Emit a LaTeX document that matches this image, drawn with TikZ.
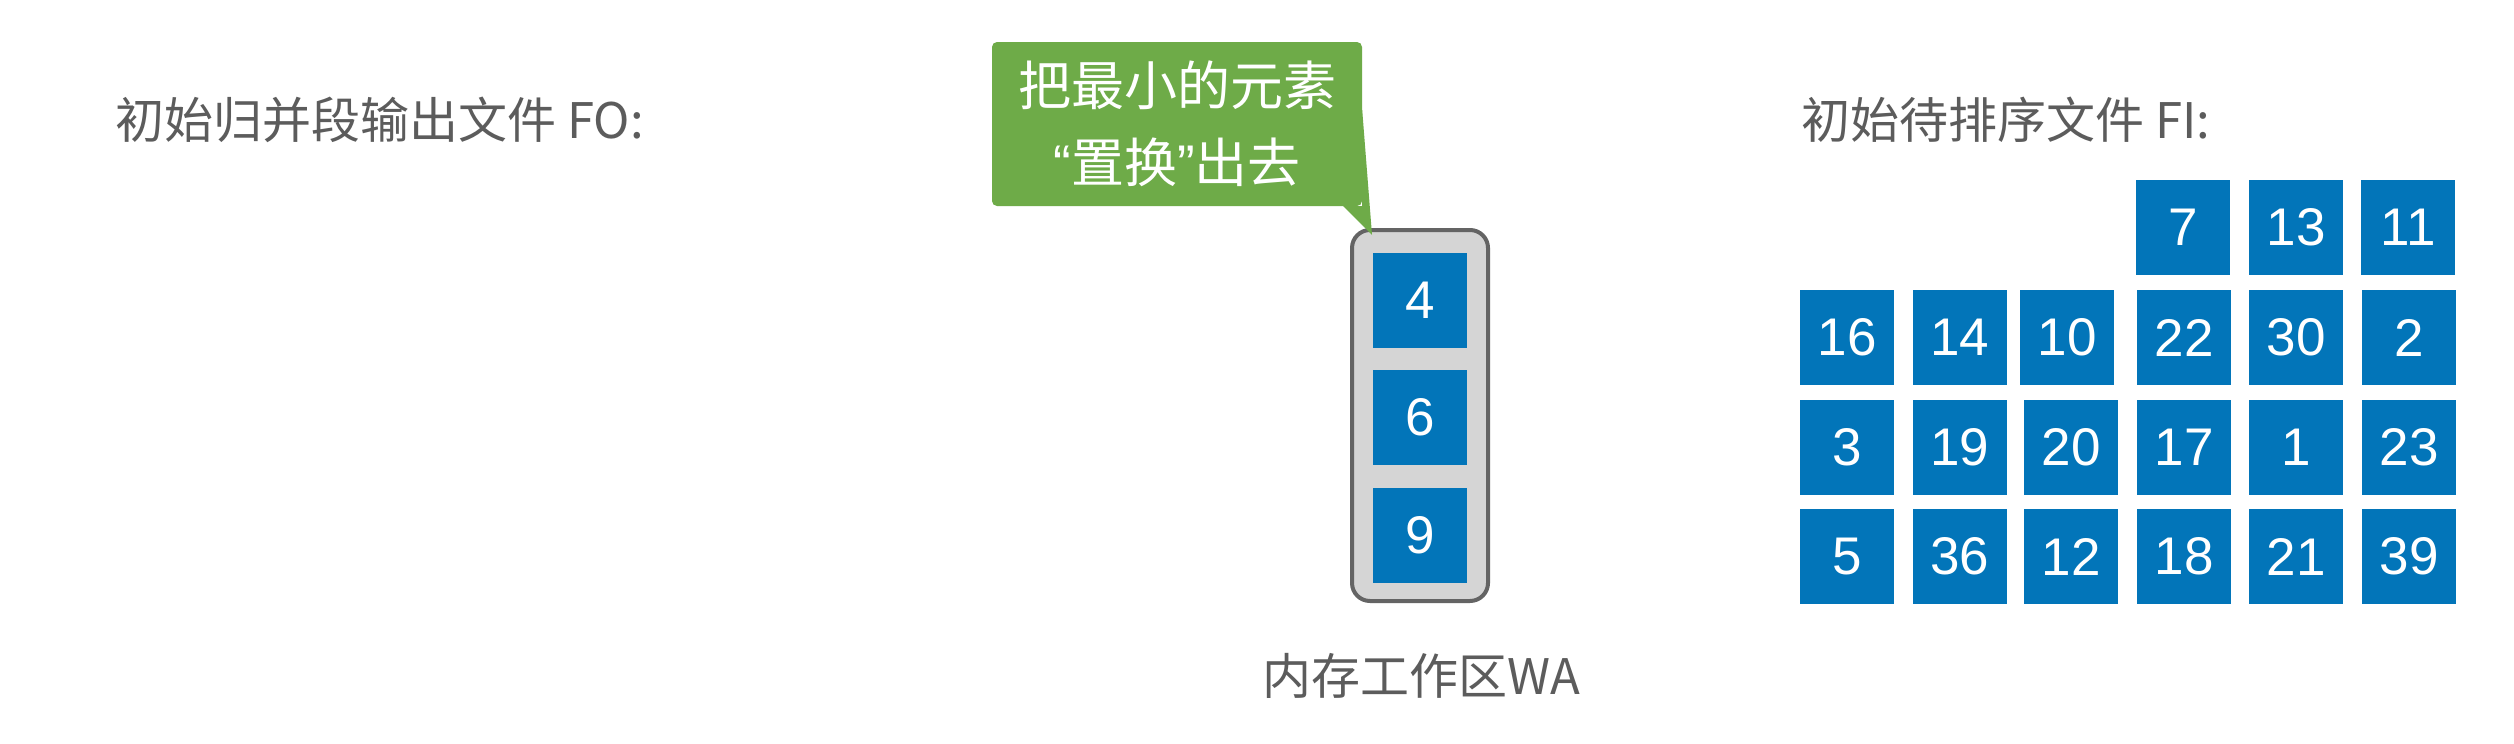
\documentclass[tikz,border=0pt]{standalone}
\usepackage{fontspec}
\setmainfont{Liberation Sans}
\newfontfamily\cjk{Noto Sans CJK SC}
\definecolor{cellblue}{RGB}{2,117,185}
\definecolor{calloutgreen}{RGB}{110,171,72}
\definecolor{textgray}{RGB}{92,92,92}
\definecolor{wafill}{RGB}{213,213,213}
\definecolor{wadraw}{RGB}{100,100,100}
\begin{document}
\begin{tikzpicture}[x=1pt,y=-1pt,
  cell/.style={fill=cellblue, minimum width=94pt, minimum height=95pt, inner sep=0pt,
    text=white, font=\fontsize{53}{53}\selectfont},
  title/.style={text=textgray, font=\cjk\fontsize{49}{49}\selectfont, inner sep=0pt},
  wabox/.style={draw=wadraw, line width=4pt, fill=wafill, rounded corners=18pt,
    minimum width=136pt, minimum height=371pt, inner sep=0pt},
  callout/.style={fill=calloutgreen, rounded corners=5pt, minimum width=370pt,
    minimum height=164pt, inner sep=0pt, text=white, align=center,
    font=\cjk\fontsize{53}{77.5}\selectfont}]
\useasboundingbox[fill=white] (0,0) rectangle (2514,744);

% titles
\node[title, anchor=west] (fo) at (115,120) {初始归并段输出文件 FO:};
\node[title, anchor=west] (fi) at (1801,120) {初始待排序文件 FI:};

% working area
\node[wabox] (wa) at (1420,415.5) {};
\node[cell] (wa1) at (1420,300.5) {4};
\node[cell] (wa2) at (1420,417.5) {6};
\node[cell] (wa3) at (1420,535.5) {9};
\node[title] (walabel) at (1421,676) {内存工作区WA};

% callout
\node[callout] (co) at (1177,124) {把最小的元素\\{\rmfamily “}置换{\rmfamily ”}出去};
\coordinate (tip) at (1372,235);
\fill[calloutgreen] (co.east |- 0,110) -- (tip) -- (1343,206) -- (co.south east) -- cycle;

% input file FI
\node[cell] (r0c3) at (2183,227.5) {7};
\node[cell] (r0c4) at (2296,227.5) {13};
\node[cell] (r0c5) at (2408,227.5) {11};

\node[cell] (r1c0) at (1847,337.5) {16};
\node[cell] (r1c1) at (1959.5,337.5) {14};
\node[cell] (r1c2) at (2067,337.5) {10};
\node[cell] (r1c3) at (2184,337.5) {22};
\node[cell] (r1c4) at (2296,337.5) {30};
\node[cell] (r1c5) at (2409,337.5) {2};

\node[cell] (r2c0) at (1847,447.5) {3};
\node[cell] (r2c1) at (1959.5,447.5) {19};
\node[cell] (r2c2) at (2071,447.5) {20};
\node[cell] (r2c3) at (2184,447.5) {17};
\node[cell] (r2c4) at (2296,447.5) {1};
\node[cell] (r2c5) at (2409,447.5) {23};

\node[cell] (r3c0) at (1847,556.5) {5};
\node[cell] (r3c1) at (1959.5,556.5) {36};
\node[cell] (r3c2) at (2071,556.5) {12};
\node[cell] (r3c3) at (2184,556.5) {18};
\node[cell] (r3c4) at (2296,556.5) {21};
\node[cell] (r3c5) at (2409,556.5) {39};
\end{tikzpicture}
\end{document}
